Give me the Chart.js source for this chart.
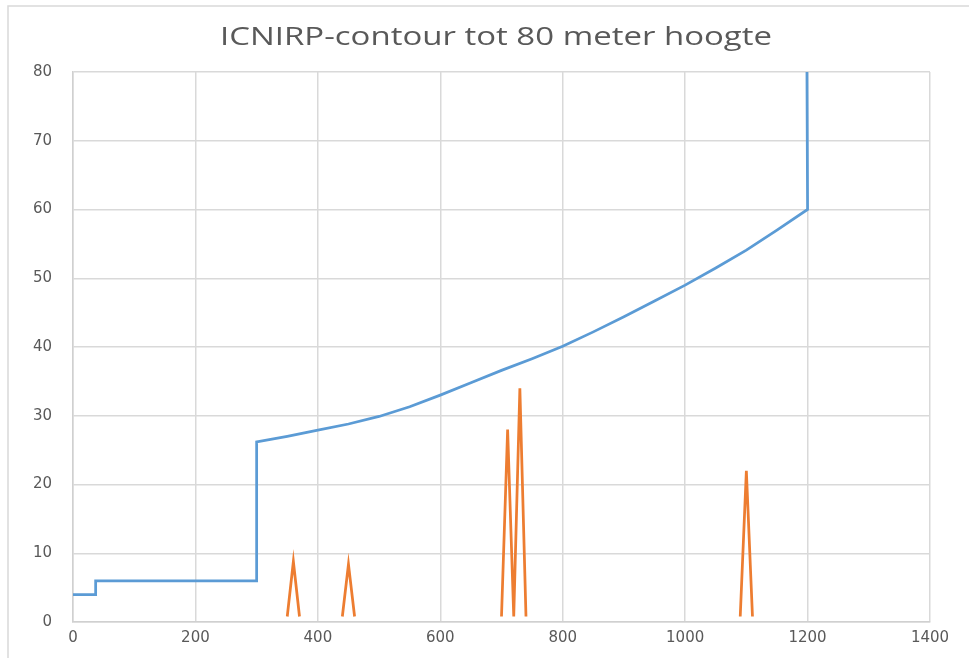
<!DOCTYPE html>
<html>
<head>
<meta charset="utf-8">
<script src="https://cdn.jsdelivr.net/npm/chart.js@4/dist/chart.umd.min.js"></script>
<style>
html,body{margin:0;padding:0;background:#fff;}
canvas{display:block;}
</style>
</head>
<body>
<canvas id="c" width="969" height="658"></canvas>
<script>
const chartTitle = "ICNIRP-contour tot 80 meter hoogte";
const xTicks = [0, 200, 400, 600, 800, 1000, 1200, 1400];
const yTicks = [0, 10, 20, 30, 40, 50, 60, 70, 80];

const contourX = [0, 37, 37, 300, 300, 350, 400, 450, 500, 550, 600, 650, 700, 750, 800, 850, 900, 950, 1000, 1050, 1100, 1150, 1200, 1199];
const contourY = [4, 4, 6, 6, 26.2, 27.0, 27.9, 28.8, 29.9, 31.3, 33.0, 34.8, 36.6, 38.3, 40.1, 42.2, 44.4, 46.7, 49.0, 51.5, 54.1, 57.0, 60, 80];

const spikeX = [350, 360, 370, 405, 440, 450, 460, 580, 700, 710, 720, 730, 740, 900, 1090, 1100, 1110];
const spikeY = [0.8, 8.8, 0.8, null, 0.8, 8.4, 0.8, null, 0.8, 28, 0.8, 34, 0.8, null, 0.8, 22, 0.8];

const toPts = (xs, ys) => xs.map((x, i) => ({x: x, y: ys[i]}));

const framePlugin = {
  id: 'frame',
  beforeDraw(chart) {
    const ctx = chart.ctx;
    ctx.save();
    ctx.fillStyle = '#ffffff';
    ctx.fillRect(0, 0, chart.width, chart.height);
    ctx.strokeStyle = '#d9d9d9';
    ctx.lineWidth = 1.5;
    ctx.strokeRect(8, 6, chart.width + 20, chart.height + 20);
    ctx.restore();
  },
  afterDraw(chart) {
    const ctx = chart.ctx;
    ctx.save();
    ctx.font = '25px "Open Sans"';
    const w = ctx.measureText(chartTitle).width;
    const sx = 552 / w;
    ctx.translate(496, 38);
    ctx.scale(sx, 1);
    ctx.fillStyle = '#595959';
    ctx.textAlign = 'center';
    ctx.textBaseline = 'middle';
    ctx.fillText(chartTitle, 0, 0);
    ctx.restore();
  }
};

new Chart(document.getElementById('c'), {
  type: 'line',
  data: {
    datasets: [
      {
        label: 'ICNIRP-contour',
        data: toPts(contourX, contourY),
        borderColor: '#5B9BD5',
        borderWidth: 2.75,
        pointRadius: 0,
        tension: 0,
        fill: false
      },
      {
        label: 'Objecten',
        data: toPts(spikeX, spikeY),
        borderColor: '#ED7D31',
        borderWidth: 2.75,
        pointRadius: 0,
        tension: 0,
        spanGaps: false,
        fill: false
      }
    ]
  },
  options: {
    responsive: false,
    maintainAspectRatio: false,
    animation: false,
    layout: { padding: { left: 0, right: 39, top: 72, bottom: 0 } },
    plugins: {
      legend: { display: false },
      title: { display: false },
      tooltip: { enabled: false }
    },
    scales: {
      x: {
        type: 'linear',
        min: 0, max: 1400,
        afterBuildTicks(scale) { scale.ticks = xTicks.map(v => ({value: v})); },
        afterFit(scale) { scale.height = 36; },
        grid: { color: '#d9d9d9', lineWidth: 1.5, drawTicks: false },
        border: { color: '#d0d0d0', width: 1.5 },
        ticks: { color: '#595959', font: { family: 'DejaVu Sans', size: 15 }, padding: 7, maxRotation: 0, callback: v => String(v) }
      },
      y: {
        type: 'linear',
        min: 0, max: 80,
        afterBuildTicks(scale) { scale.ticks = yTicks.map(v => ({value: v})); },
        afterFit(scale) { scale.width = 73; },
        grid: { color: '#d9d9d9', lineWidth: 1.5, drawTicks: false },
        border: { color: '#d0d0d0', width: 1.5 },
        ticks: { color: '#595959', font: { family: 'DejaVu Sans', size: 15 }, padding: 21, callback: v => String(v) }
      }
    }
  },
  plugins: [framePlugin]
});
</script>
</body>
</html>
